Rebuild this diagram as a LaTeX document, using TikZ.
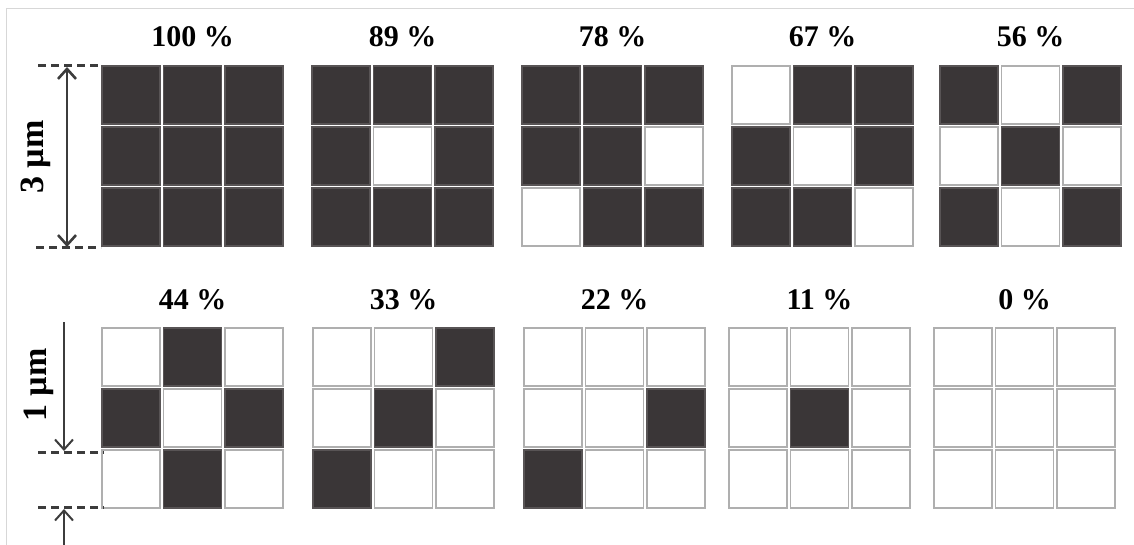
\documentclass[tikz,border=0pt]{standalone}
\usepackage{fontspec}
\setmainfont{Liberation Serif}
\usetikzlibrary{arrows.meta}
\definecolor{cdark}{RGB}{58,54,55}
\definecolor{cedge}{RGB}{175,175,175}
\definecolor{cdim}{RGB}{60,60,60}
\definecolor{cframe}{RGB}{215,215,215}
\tikzset{
  cellbase/.style={rectangle, minimum width=58pt, minimum height=58pt, inner sep=0pt, line width=1.7pt},
  dark/.style={cellbase, fill=cdark, draw=cdark!85!white},
  light/.style={cellbase, fill=white, draw=cedge},
  pct/.style={font=\bfseries\fontsize{30}{32}\selectfont, anchor=base, inner sep=0pt},
  dimlab/.style={font=\bfseries\fontsize{34}{36}\selectfont, inner sep=0pt, rotate=90},
  dashline/.style={draw=cdim, line width=3pt, dash pattern=on 8pt off 5pt},
  tip/.style={},
  dimarrow/.style={draw=cdim, line width=2.6pt},
  dimarrowthin/.style={draw=cdim, line width=2pt},
}
\newcommand{\drawgrid}[5]{%
  \node[pct] (#1lab) at (#2+90.5,#3-19) {#4};
  \foreach \v [count=\k from 0] in {#5} {%
    \pgfmathtruncatemacro{\rr}{int(\k/3)}%
    \pgfmathtruncatemacro{\cc}{mod(\k,3)}%
    \ifnum\v=1 \def\st{dark}\else\def\st{light}\fi
    \node[\st] (#1c\rr\cc) at (#2+29.25+\cc*61.3, #3+29.25+\rr*61.0) {};
  }%
}
\begin{document}
\begin{tikzpicture}[x=1pt,y=-1pt]
\useasboundingbox (0,0) rectangle (1134,545);
% frame lines
\draw[cframe, line width=1pt] (6,545) -- (6,9) -- (1134,9);
% top row
\drawgrid{ga}{102}{66}{100 \%}{1,1,1,1,1,1,1,1,1}
\drawgrid{gb}{312}{66}{89 \%}{1,1,1,1,0,1,1,1,1}
\drawgrid{gc}{522}{66}{78 \%}{1,1,1,1,1,0,0,1,1}
\drawgrid{gd}{732}{66}{67 \%}{0,1,1,1,0,1,1,1,0}
\drawgrid{ge}{940}{66}{56 \%}{1,0,1,0,1,0,1,0,1}
% bottom row
\drawgrid{gf}{102}{328}{44 \%}{0,1,0,1,0,1,0,1,0}
\drawgrid{gg}{313}{328}{33 \%}{0,0,1,0,1,0,1,0,0}
\drawgrid{gh}{524}{328}{22 \%}{0,0,0,0,0,1,1,0,0}
\drawgrid{gi}{729}{328}{11 \%}{0,0,0,0,1,0,0,0,0}
\drawgrid{gj}{934}{328}{0 \%}{0,0,0,0,0,0,0,0,0}
% 3 um dimension
\coordinate (da1) at (38,66);
\coordinate (da2) at (101,66);
\coordinate (db1) at (36,248);
\coordinate (db2) at (101,248);
\draw[dashline] (da1) -- (da2);
\draw[dashline] (db1) -- (db2);
\coordinate (aTop) at (67,67);
\coordinate (aBot) at (67,247);
\draw[dimarrow, {Straight Barb[length=10pt,width=18pt,line width=2.6pt]}-{Straight Barb[length=10pt,width=18pt,line width=2.6pt]}] (aTop) -- (aBot);
\node[dimlab] (l3) at (36,157) {3 µm};
% 1 um dimension
\coordinate (dc1) at (38,452);
\coordinate (dc2) at (104,452);
\coordinate (dd1) at (38,507);
\coordinate (dd2) at (104,507);
\draw[dashline] (dc1) -- (dc2);
\draw[dashline] (dd1) -- (dd2);
\coordinate (bStart) at (64,322);
\coordinate (bEnd) at (64,451);
\draw[dimarrowthin, -{Straight Barb[length=10pt,width=18pt,line width=2pt]}] (bStart) -- (bEnd);
\coordinate (cStart) at (64,545);
\coordinate (cEnd) at (64,509);
\draw[dimarrowthin, -{Straight Barb[length=10pt,width=18pt,line width=2pt]}] (cStart) -- (cEnd);
\node[dimlab] (l1) at (39,385) {1 µm};
\end{tikzpicture}
\end{document}
